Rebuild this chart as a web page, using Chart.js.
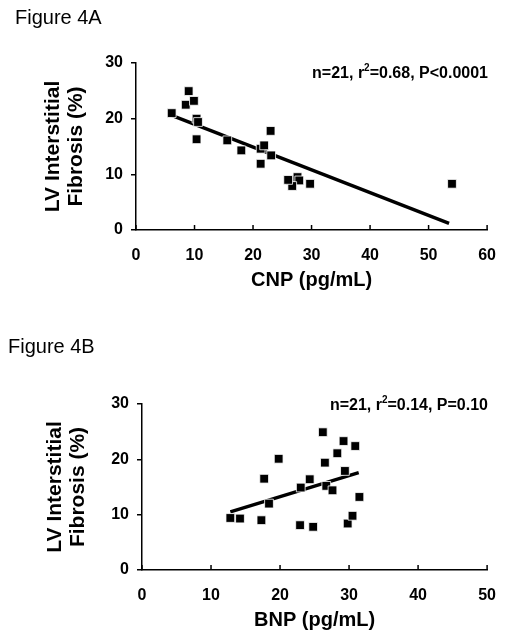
<!DOCTYPE html>
<html><head><meta charset="utf-8">
<script src="https://cdn.jsdelivr.net/npm/chart.js@4"></script>
<style>
body{margin:0;width:512px;height:641px;background:#fff;position:relative;overflow:hidden;font-family:'Liberation Sans',Arial,sans-serif;color:#000;}
canvas{position:absolute;left:0;}
.fig{position:absolute;font-size:20px;line-height:20px;white-space:nowrap;}
.ann{position:absolute;font-size:16px;line-height:16px;font-weight:bold;right:24px;white-space:nowrap;}
.ann sup{font-size:10px;line-height:0;vertical-align:7px;}
</style></head><body>
<canvas id="chartA" width="512" height="310" style="top:0"></canvas>
<canvas id="chartB" width="512" height="320" style="top:320px"></canvas>
<div class="fig" style="left:15px;top:7px">Figure 4A</div>
<div class="fig" style="left:8px;top:336px">Figure 4B</div>
<div class="ann" style="top:65px">n=21, r<sup>2</sup>=0.68, P&lt;0.0001</div>
<div class="ann" style="top:397px">n=21, r<sup>2</sup>=0.14, P=0.10</div>
<script>
// Figure 4A data: CNP vs LV interstitial fibrosis
const cnpValues = [6.1, 9.0, 8.5, 9.9, 10.35, 10.6, 10.35, 15.6, 18.0, 21.3, 21.9, 23.0, 23.1, 21.3, 26.4, 27.6, 27.9, 26.7, 29.75, 54.0, 26.0];
const fibrosisA = [21.0, 24.95, 22.5, 23.2, 20.0, 19.4, 16.3, 16.1, 14.3, 14.6, 15.2, 17.8, 13.4, 11.9, 8.9, 9.5, 8.9, 7.9, 8.3, 8.3, 9.0];
const fitA_x = [6.1, 53.5];
const fitA_y = [20.6, 1.2];
// Figure 4B data: BNP vs LV interstitial fibrosis
const bnpValues = [12.8, 14.2, 17.3, 17.7, 18.4, 19.8, 22.9, 23.0, 24.3, 24.8, 26.2, 26.5, 26.7, 27.6, 28.3, 29.2, 29.4, 29.8, 30.5, 30.9, 31.5];
const fibrosisB = [9.4, 9.3, 9.0, 16.5, 12.0, 20.1, 8.1, 14.9, 16.4, 7.8, 24.9, 19.4, 15.2, 14.4, 21.1, 23.3, 17.9, 8.4, 9.8, 22.4, 13.2];
const fitB_x = [12.8, 31.4];
const fitB_y = [10.5, 17.6];
const yTicks = [0, 10, 20, 30];
const xTicksA = [0, 10, 20, 30, 40, 50, 60];
const xTicksB = [0, 10, 20, 30, 40, 50];
const yTitle = ['LV Interstitial', 'Fibrosis (%)'];

const FONT = "'Liberation Sans', Arial, sans-serif";
const toPts = (xs, ys) => xs.map((x, i) => ({x, y: ys[i]}));

const innerTicks = {
  id: 'innerTicks',
  afterDraw(chart) {
    const ctx = chart.ctx, xs = chart.scales.x, y0 = chart.chartArea.bottom;
    ctx.save();
    ctx.strokeStyle = '#000';
    ctx.lineWidth = 1.5;
    xs.ticks.forEach(t => {
      const px = xs.getPixelForValue(t.value);
      ctx.beginPath();
      ctx.moveTo(px, y0);
      ctx.lineTo(px, y0 - 5);
      ctx.stroke();
    });
    ctx.restore();
  }
};

function makeChart(id, xs, ys, fx, fy, xTicks, xMax, xTitle, opts) {
  new Chart(document.getElementById(id), {
    type: 'scatter',
    data: {
      datasets: [
        { data: toPts(xs, ys), pointStyle: 'rect', pointRadius: 6.2, pointHoverRadius: 6.2,
          backgroundColor: '#000', borderColor: '#fff', borderWidth: 0.8 },
        { data: toPts(fx, fy), showLine: true, pointRadius: 0, borderColor: '#000',
          borderWidth: 3.4, fill: false }
      ]
    },
    options: {
      responsive: false, animation: false,
      layout: { padding: { top: opts.top, right: opts.right, left: 0, bottom: 0 } },
      plugins: { legend: { display: false }, tooltip: { enabled: false } },
      scales: {
        x: {
          type: 'linear', min: 0, max: xMax,
          afterBuildTicks: s => { s.ticks = xTicks.map(v => ({value: v})); },
          afterFit: s => { s.height = opts.xH; },
          grid: { display: false, drawTicks: false },
          border: { display: true, color: '#000', width: 1.5 },
          ticks: { color: '#000', padding: 16, font: { family: FONT, size: 16, weight: 'bold' } },
          title: { display: true, text: xTitle, color: '#000', padding: { top: 0, bottom: opts.xTitlePad },
                   font: { family: FONT, size: 20, weight: 'bold', lineHeight: 1.1 } }
        },
        y: {
          type: 'linear', min: 0, max: 30,
          afterBuildTicks: s => { s.ticks = yTicks.map(v => ({value: v})); },
          afterFit: s => { s.width = opts.yW; },
          grid: { display: true, drawOnChartArea: false, drawTicks: true, tickLength: 5, color: '#000', lineWidth: 1.5 },
          border: { display: true, color: '#000', width: 1.5 },
          ticks: { color: '#000', padding: 8, font: { family: FONT, size: 16, weight: 'bold' } },
          title: { display: true, text: yTitle, color: '#000', padding: { top: opts.yTitlePad, bottom: 0 },
                   font: { family: FONT, size: 21, weight: 'bold', lineHeight: 1.1 } }
        }
      }
    },
    plugins: [innerTicks]
  });
}

makeChart('chartA', cnpValues, fibrosisA, fitA_x, fitA_y, xTicksA, 60, 'CNP (pg/mL)',
  { top: 63, right: 24, xH: 80, yW: 136, xTitlePad: 19, yTitlePad: 41.5 });
makeChart('chartB', bnpValues, fibrosisB, fitB_x, fitB_y, xTicksB, 50, 'BNP (pg/mL)',
  { top: 84, right: 19, xH: 70, yW: 142, xTitlePad: 9, yTitlePad: 43.5 });
</script>
</body></html>
